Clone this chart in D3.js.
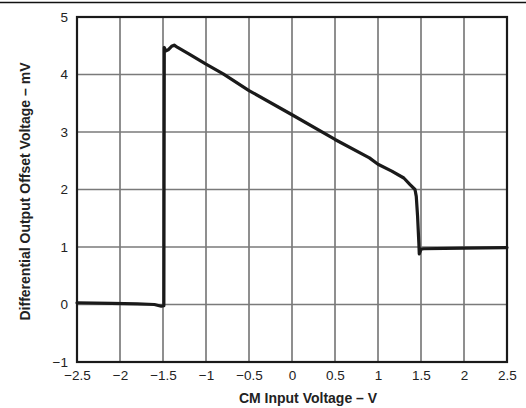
<!DOCTYPE html>
<html><head><meta charset="utf-8">
<script src="https://cdn.jsdelivr.net/npm/d3@7"></script>
<style>body{margin:0;background:#fff}svg{display:block}</style>
</head><body>
<script>
const xValues = [-2.5,-2.1,-1.8,-1.6,-1.52,-1.49,-1.485,-1.47,-1.44,-1.40,-1.37,-1.33,-1.2,-1.0,-0.8,-0.5,0,0.5,0.9,1.0,1.16,1.3,1.37,1.43,1.445,1.46,1.475,1.48,1.5,1.53,2.0,2.5];
const yValues = [0.03,0.02,0.01,0.0,-0.03,-0.02,4.47,4.41,4.43,4.49,4.51,4.47,4.36,4.18,4.01,3.72,3.30,2.87,2.55,2.44,2.32,2.20,2.09,2.00,1.88,1.54,1.07,0.88,0.96,0.97,0.98,0.99];
const xTicks = [-2.5,-2,-1.5,-1,-0.5,0,0.5,1,1.5,2,2.5];
const xTickLabels = ["\u22122.5","\u22122","\u22121.5","\u22121","\u22120.5","0","0.5","1","1.5","2","2.5"];
const yTicks = [-1,0,1,2,3,4,5];
const yTickLabels = ["\u22121","0","1","2","3","4","5"];
const xTitle = "CM Input Voltage \u2013 V";
const yTitle = "Differential Output Offset Voltage \u2013 mV";

const W = 526, H = 408;
const m = {left: 77, right: 19, top: 17, bottom: 46};
const svg = d3.select("body").append("svg").attr("width", W).attr("height", H);
const x = d3.scaleLinear().domain([-2.5, 2.5]).range([m.left, W - m.right]);
const y = d3.scaleLinear().domain([-1, 5]).range([H - m.bottom, m.top]);
const font = "Liberation Sans, Arial, Helvetica, sans-serif";

svg.append("line").attr("x1", 0).attr("x2", W).attr("y1", 2.5).attr("y2", 2.5)
  .attr("stroke", "#111").attr("stroke-width", 1.6);

// grid
const g = svg.append("g");
g.selectAll(".vg").data(xTicks.slice(1, -1)).join("line")
  .attr("x1", d => x(d)).attr("x2", d => x(d)).attr("y1", y(5)).attr("y2", y(-1))
  .attr("stroke", "#6a6a6a").attr("stroke-width", 1.5);
g.selectAll(".hg").data(yTicks.slice(1, -1)).join("line")
  .attr("x1", x(-2.5)).attr("x2", x(2.5)).attr("y1", d => y(d)).attr("y2", d => y(d))
  .attr("stroke", "#7a7a7a").attr("stroke-width", 1.5);

// curve
const pts = xValues.map((v, i) => [v, yValues[i]]);
svg.append("path").datum(pts)
  .attr("d", d3.line().x(d => x(d[0])).y(d => y(d[1])))
  .attr("fill", "none").attr("stroke", "#1a1a1a").attr("stroke-width", 3.2)
  .attr("stroke-linejoin", "round").attr("stroke-linecap", "round");

// frame
svg.append("rect").attr("x", x(-2.5)).attr("y", y(5))
  .attr("width", x(2.5) - x(-2.5)).attr("height", y(-1) - y(5))
  .attr("fill", "none").attr("stroke", "#1a1a1a").attr("stroke-width", 2.2);

// axes labels
const xAxis = d3.axisBottom(x).tickValues(xTicks).tickSize(0).tickPadding(8)
  .tickFormat((d, i) => xTickLabels[i]);
const xa = svg.append("g").attr("transform", `translate(0,${y(-1)})`).call(xAxis);
xa.select(".domain").remove();
xa.selectAll("text").attr("font-family", font).attr("font-size", 13.5).attr("fill", "#222");

const yAxis = d3.axisLeft(y).tickValues(yTicks).tickSize(0).tickPadding(9)
  .tickFormat((d, i) => yTickLabels[i]);
const ya = svg.append("g").attr("transform", `translate(${x(-2.5)},0)`).call(yAxis);
ya.select(".domain").remove();
ya.selectAll("text").attr("font-family", font).attr("font-size", 13.5).attr("fill", "#222");

svg.append("text").attr("x", 308).attr("y", 403)
  .attr("text-anchor", "middle").attr("font-family", font).attr("font-weight", "bold")
  .attr("font-size", 14).attr("fill", "#222").text(xTitle);

svg.append("text").attr("transform", `translate(30,${(y(5) + y(-1)) / 2 + 2}) rotate(-90)`)
  .attr("text-anchor", "middle").attr("font-family", font).attr("font-weight", "bold")
  .attr("font-size", 14).attr("fill", "#222").text(yTitle);
</script>
</body></html>
